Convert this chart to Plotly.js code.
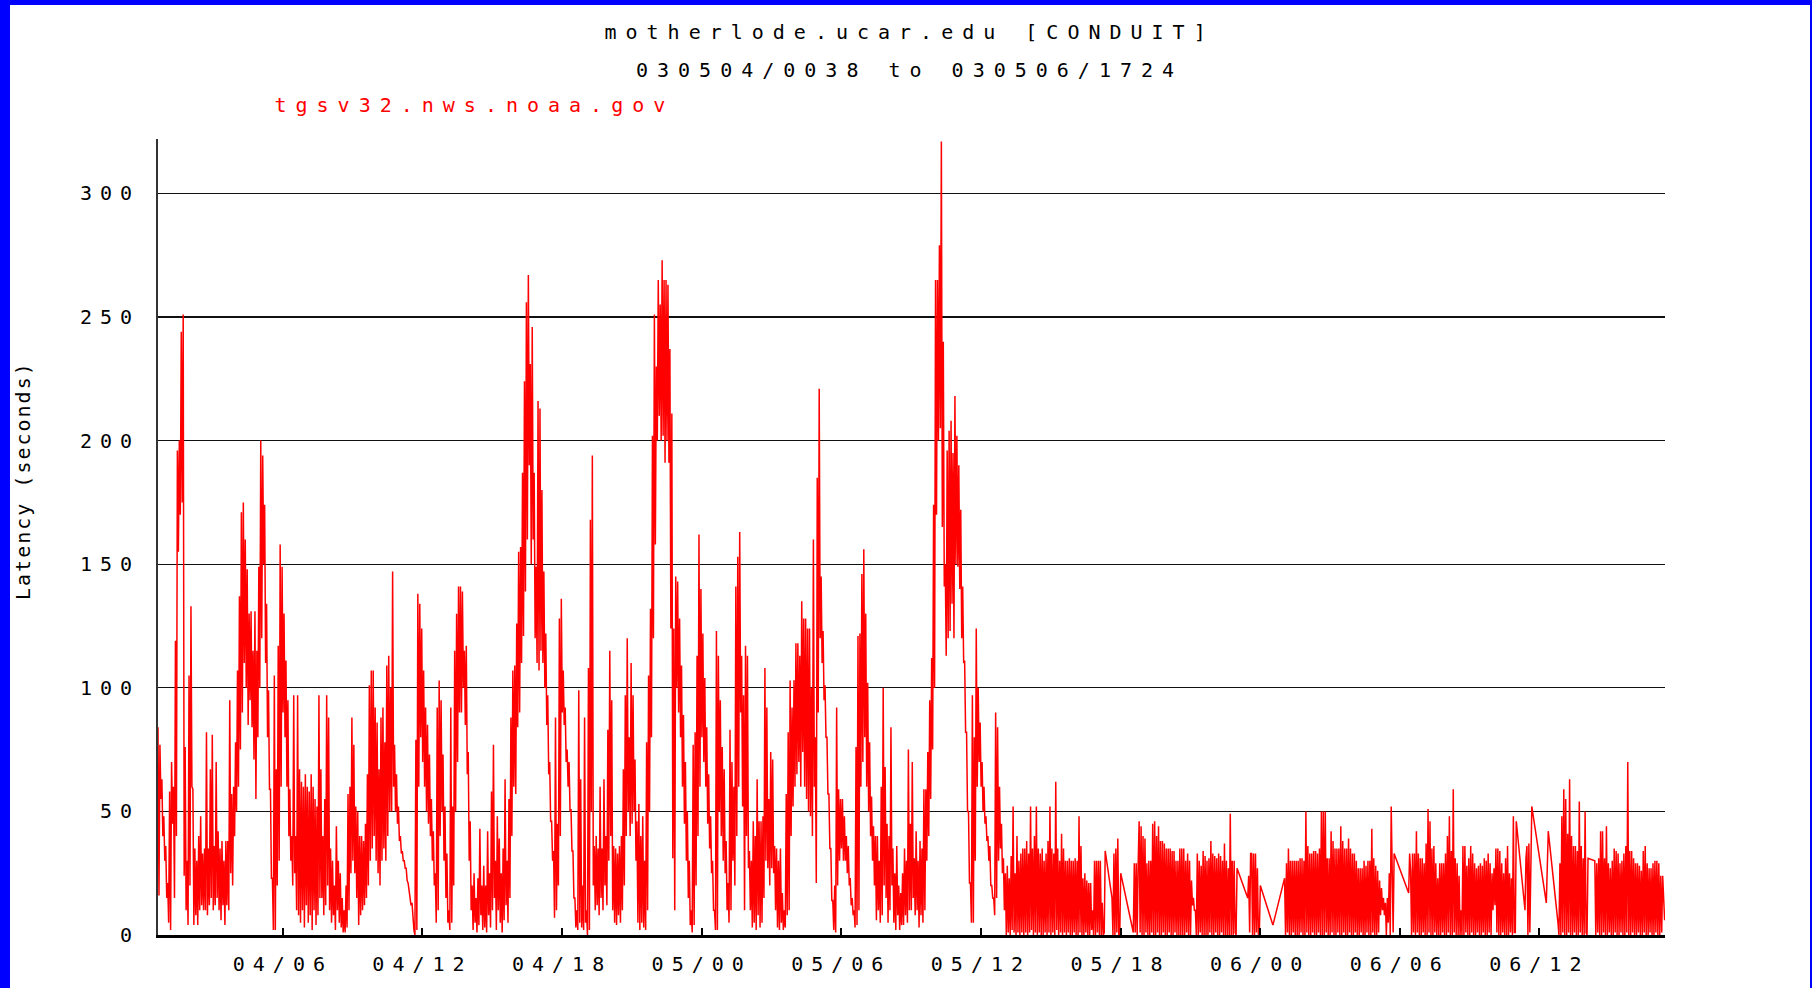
<!DOCTYPE html>
<html>
<head>
<meta charset="utf-8">
<script src="https://cdn.plot.ly/plotly-3.0.1.min.js"></script>
<style>
body{margin:0;background:#0000ff;overflow:hidden;width:1812px;height:988px}
#plot{position:absolute;left:10px;top:5px;width:1800px;height:983px;background:#fff}
.xtick text,.ytick text{letter-spacing:8px}
.annotation text{letter-spacing:9px}
.annotation[data-index="3"] text{letter-spacing:2px}
</style>
</head>
<body>
<div id="plot"></div>
<script>
// Chart texts
const titleLine1 = "motherlode.ucar.edu [CONDUIT]";
const titleLine2 = "030504/0038 to 030506/1724";
const hostLabel = "tgsv32.nws.noaa.gov";
const yTitle = "Latency (seconds)";

// Time axis: first sample time, sampling step, axis range, tick spacing
const startTime = "2003-05-04 00:38";
const endTime = "2003-05-06 17:24";
const stepMinutes = 2.5;
const tickStart = "2003-05-04 00:00";
const tickHours = 6;

// Latency (seconds), one value every 2.5 minutes from startTime
// (one row per hour; null = no sample, the line is drawn straight across the gap)
const latency = [
  84,16,77,55,63,40,48,30,36,15,21,5,58,2,70,45,60,15,119,40,196,155,200,170,
  244,175,251,24,76,10,30,4,105,20,133,60,59,4,35,8,30,4,40,10,48,12,33,10,
  35,10,82,8,35,12,67,15,81,10,36,12,70,15,42,10,35,6,38,12,30,4,38,12,
  38,10,95,25,57,20,60,40,78,50,107,60,137,75,171,90,175,110,160,100,148,85,130,95,
  131,84,115,71,131,55,115,80,149,100,200,120,194,150,174,110,134,80,99,59,59,23,23,2,
  105,2,67,20,117,30,158,60,149,90,130,80,111,60,95,40,59,30,40,20,97,25,40,10,
  97,8,67,5,62,10,60,3,65,12,60,5,58,8,65,2,60,10,55,4,52,8,97,15,
  67,15,40,8,55,12,97,20,88,10,35,5,30,8,20,2,44,10,30,5,25,3,15,1,
  10,1,20,3,57,10,60,25,88,30,77,25,52,15,50,4,40,8,40,10,38,12,45,15,
  65,20,101,30,107,35,107,40,92,30,86,25,67,20,88,30,92,35,78,30,109,40,113,50,
  100,50,147,60,77,50,65,45,52,38,40,33,34,30,30,27,27,22,21,17,16,12,13,5,
  2,0,79,2,138,60,134,80,124,70,107,60,92,50,85,45,73,40,55,30,42,20,25,5,
  92,10,103,40,95,50,73,30,52,15,33,5,10,2,92,5,52,20,115,50,130,70,141,90,
  141,90,139,100,115,85,117,65,74,30,46,10,20,2,25,5,15,1,23,4,43,8,20,2,
  28,3,20,1,42,8,25,3,58,10,77,15,30,2,48,10,39,5,25,1,35,6,63,12,
  30,5,55,15,88,40,107,60,109,57,126,84,155,90,157,110,187,121,224,139,256,160,267,190,
  231,150,246,160,187,120,149,110,216,107,213,115,180,110,147,100,122,85,97,65,70,46,46,30,
  34,7,88,10,45,20,128,40,136,90,107,85,92,70,75,60,70,50,51,34,34,15,15,3,
  10,2,99,5,63,3,20,2,88,5,10,0,108,2,168,50,194,20,36,10,40,12,35,8,
  60,15,35,10,63,20,40,12,83,30,115,40,95,10,36,5,35,4,33,8,36,5,40,10,
  67,20,97,40,120,50,80,40,110,45,97,50,71,30,46,5,53,2,40,5,48,3,30,2,
  78,10,105,50,132,80,202,120,251,158,230,200,265,210,255,200,273,202,265,191,265,200,263,191,
  237,124,211,31,124,10,145,100,143,90,128,80,109,60,89,45,70,30,50,15,30,4,10,1,
  77,4,82,20,113,40,162,60,140,80,122,70,104,60,84,45,65,35,48,25,30,10,10,2,
  123,2,113,50,95,40,76,30,67,25,38,10,21,5,83,10,70,30,60,20,141,40,153,60,
  163,90,113,52,97,10,117,40,113,27,34,10,30,3,46,5,40,2,63,8,46,3,46,5,
  48,15,108,30,92,27,55,20,74,27,71,25,36,10,35,3,30,2,35,5,17,2,10,3,
  57,8,82,10,103,40,92,52,103,60,118,65,118,70,113,60,135,74,128,60,128,55,124,50,
  124,48,100,40,160,60,80,21,185,90,221,120,145,110,123,95,101,80,80,57,57,35,35,14,
  14,2,20,1,92,20,59,30,55,35,55,30,48,30,40,25,36,20,23,12,15,8,10,3,
  76,4,121,10,122,60,146,70,156,80,130,60,102,50,78,40,56,30,44,20,40,6,40,10,
  30,5,60,8,100,20,68,15,45,5,40,10,84,20,35,5,25,2,36,8,20,2,17,4,
  25,4,35,8,30,5,75,10,45,10,70,15,31,8,42,10,30,3,38,8,35,5,59,10,
  59,30,74,40,95,55,112,75,174,100,265,170,265,200,279,205,321,165,240,141,150,113,196,120,
  204,123,208,134,195,120,218,150,202,149,190,140,172,120,141,110,111,82,82,50,50,21,21,5,
  97,5,80,30,124,60,100,70,86,60,70,50,60,45,48,38,40,30,36,20,20,15,15,8,
  90,15,84,30,60,35,45,25,31,10,25,0,28,1,23,0,32,2,52,1,25,0,40,1,
  30,0,33,1,35,0,35,1,38,0,33,1,52,2,35,0,40,1,52,0,35,1,33,0,
  35,0,30,1,33,0,38,1,52,0,35,1,33,0,62,2,35,0,30,1,41,0,35,1,
  30,0,30,1,31,0,30,0,30,1,31,0,30,0,48,1,36,0,23,0,25,1,22,0,
  21,0,21,2,10,0,30,0,30,1,30,0,30,0,13,0,1,34,null,null,null,null,null,null,
  15,0,33,0,35,1,39,0,0,25,null,null,null,null,null,null,null,null,null,null,null,null,1,29,
  1,29,0,29,46,1,44,0,40,0,39,1,29,0,30,0,30,1,45,0,46,0,40,1,
  44,0,38,0,38,1,37,0,35,0,35,1,35,0,34,0,34,1,30,0,30,0,35,0,
  35,0,35,0,30,1,33,0,30,0,22,12,15,10,10,0,33,0,30,1,28,0,34,0,
  32,0,30,0,31,1,38,0,33,0,32,1,31,0,33,0,32,1,30,0,37,0,30,0,
  27,0,49,0,30,0,30,1,0,27,null,null,null,null,null,null,null,null,null,null,15,24,1,33,
  33,0,33,0,33,1,27,0,1,20,null,null,null,null,null,null,null,null,null,null,null,null,4,null,
  null,null,null,null,null,null,null,null,null,null,23,0,29,1,35,0,30,0,30,1,30,0,30,0,
  30,0,31,1,31,0,30,0,50,1,36,0,33,0,33,1,34,0,34,0,33,1,35,0,
  50,0,50,0,50,1,31,0,31,0,42,1,38,0,35,0,35,1,35,0,44,0,38,1,
  35,0,35,0,39,1,35,0,33,0,33,1,30,0,27,0,27,1,27,0,30,0,28,1,
  30,0,30,0,43,1,31,0,28,0,26,1,22,8,19,10,15,8,13,0,15,5,25,0,
  52,19,1,33,null,null,null,null,null,null,null,null,null,null,null,null,null,null,17,33,26,0,33,1,
  33,0,42,1,33,0,31,0,31,1,29,0,37,0,51,1,46,0,35,0,36,1,29,0,
  23,0,29,0,29,1,29,0,33,0,40,1,48,0,34,0,59,1,31,0,29,0,24,0,
  10,0,36,0,36,1,28,0,31,0,36,1,33,0,29,0,27,1,28,0,29,0,28,1,
  31,0,30,0,33,1,29,0,25,10,27,12,35,1,35,0,34,0,29,1,25,0,31,0,
  36,0,25,1,23,0,48,1,1,46,null,null,null,null,null,null,null,null,10,31,36,0,37,1,
  36,52,null,null,null,null,null,null,null,null,null,null,null,null,null,null,13,null,42,null,null,null,null,null,
  null,null,null,null,5,0,29,0,48,1,59,0,55,0,41,1,63,0,40,0,36,1,36,0,
  34,0,54,1,36,0,31,0,50,1,0,31,null,null,null,null,null,null,30,0,29,1,31,0,
  42,0,42,1,31,0,44,0,29,1,27,0,30,0,35,1,34,0,33,0,29,1,30,0,
  33,0,36,1,70,0,34,0,34,1,31,0,29,0,29,1,28,0,26,0,34,1,36,0,
  29,0,27,1,27,0,29,0,30,1,30,0,29,0,24,1,24,10,6
];

const yRange = [0, 322];
const yTicks = [0, 50, 100, 150, 200, 250, 300];

const FONT = "DejaVu Sans Mono";

const trace = {
  type: "scatter",
  mode: "lines",
  x0: startTime,
  dx: stepMinutes * 60 * 1000,
  y: latency,
  connectgaps: true,
  line: {color: "#ff0000", width: 1.5},
  hoverinfo: "skip"
};

const layout = {
  width: 1800,
  height: 983,
  paper_bgcolor: "#ffffff",
  plot_bgcolor: "#ffffff",
  margin: {l: 148, r: 145, t: 134, b: 53, pad: 0},
  showlegend: false,
  font: {family: FONT, size: 20, color: "#000"},
  xaxis: {
    type: "date",
    range: [startTime, endTime],
    tick0: tickStart,
    dtick: tickHours * 3600 * 1000,
    tickformat: "%d/%H",
    ticks: "inside",
    ticklen: 7,
    tickwidth: 2,
    tickcolor: "#000",
    showgrid: false,
    zeroline: false,
    showline: true,
    linecolor: "#000",
    linewidth: 2.5,
    ticklabelstandoff: 9,
    tickfont: {family: FONT, size: 20, color: "#000"}
  },
  yaxis: {
    range: yRange,
    tickvals: yTicks,
    ticktext: yTicks.map(String),
    ticks: "",
    showgrid: true,
    gridcolor: "#111",
    gridwidth: 1.3,
    zeroline: false,
    showline: true,
    linecolor: "#333",
    linewidth: 2,
    ticklabelstandoff: 12,
    tickfont: {family: FONT, size: 20, color: "#000"}
  },
  annotations: [
    {text: titleLine1, xref: "paper", yref: "paper", x: 0.499, y: 1.134, xanchor: "center", yanchor: "middle", showarrow: false, font: {family: FONT, size: 20, color: "#000"}},
    {text: titleLine2, xref: "paper", yref: "paper", x: 0.499, y: 1.087, xanchor: "center", yanchor: "middle", showarrow: false, font: {family: FONT, size: 20, color: "#000"}},
    {text: hostLabel, xref: "paper", yref: "paper", x: 0.2103, y: 1.043, xanchor: "center", yanchor: "middle", showarrow: false, font: {family: FONT, size: 20, color: "#ff0000"}},
    {text: yTitle, xref: "paper", yref: "paper", x: -0.0896, y: 0.5716, xanchor: "center", yanchor: "middle", textangle: -90, showarrow: false, font: {family: FONT, size: 20, color: "#000"}}
  ]
};

Plotly.newPlot("plot", [trace], layout, {displayModeBar: false, staticPlot: true});
</script>
</body>
</html>
